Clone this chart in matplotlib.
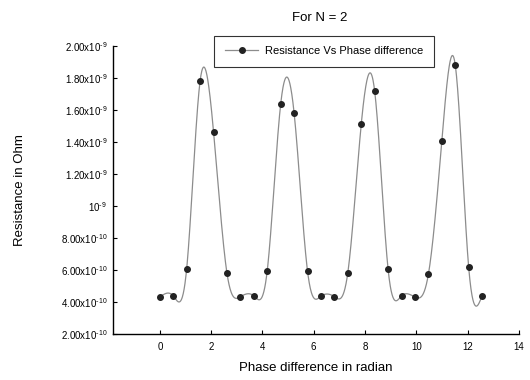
import numpy as np
import matplotlib
matplotlib.use("Agg")
import matplotlib.pyplot as plt

plt.rcParams['font.family'] = ['Liberation Sans', 'DejaVu Sans']
plt.rcParams['mathtext.default'] = 'regular'

# Data: phase difference (k*pi/6) and resistance
phase = np.arange(25) * np.pi / 6
resistance = np.array([
    4.29e-10, 4.36e-10, 6.06e-10, 1.779e-9, 1.462e-9, 5.78e-10,
    4.31e-10, 4.36e-10, 5.94e-10, 1.634e-9, 1.579e-9, 5.90e-10,
    4.34e-10, 4.31e-10, 5.81e-10, 1.509e-9, 1.715e-9, 6.02e-10,
    4.36e-10, 4.29e-10, 5.71e-10, 1.404e-9, 1.879e-9, 6.15e-10,
    4.38e-10,
])

yticks = np.arange(2e-10, 2.01e-9, 2e-10)
ytick_labels = [r'2.00x10$^{\text{-}10}$', r'4.00x10$^{\text{-}10}$', r'6.00x10$^{\text{-}10}$',
                r'8.00x10$^{\text{-}10}$', r'10$^{\text{-}9}$', r'1.20x10$^{\text{-}9}$',
                r'1.40x10$^{\text{-}9}$', r'1.60x10$^{\text{-}9}$', r'1.80x10$^{\text{-}9}$',
                r'2.00x10$^{\text{-}9}$']
xticks = [0, 2, 4, 6, 8, 10, 12, 14]


def natural_cubic_spline(x, y, xs):
    n = len(x)
    h = np.diff(x)
    A = np.zeros((n, n))
    b = np.zeros(n)
    A[0, 0] = 1
    A[-1, -1] = 1
    for i in range(1, n - 1):
        A[i, i - 1] = h[i - 1]
        A[i, i] = 2 * (h[i - 1] + h[i])
        A[i, i + 1] = h[i]
        b[i] = 3 * ((y[i + 1] - y[i]) / h[i] - (y[i] - y[i - 1]) / h[i - 1])
    c = np.linalg.solve(A, b)
    bb = np.zeros(n - 1)
    d = np.zeros(n - 1)
    for i in range(n - 1):
        bb[i] = (y[i + 1] - y[i]) / h[i] - h[i] * (2 * c[i] + c[i + 1]) / 3
        d[i] = (c[i + 1] - c[i]) / (3 * h[i])
    idx = np.clip(np.searchsorted(x, xs) - 1, 0, n - 2)
    dx = xs - x[idx]
    return y[idx] + bb[idx] * dx + c[idx] * dx ** 2 + d[idx] * dx ** 3


xs = np.linspace(phase[0], phase[-1], 1500)
ys = natural_cubic_spline(phase, resistance, xs)

fig = plt.figure(figsize=(5.3, 3.8), dpi=100)
ax = fig.add_axes([0.213, 0.122, 0.766, 0.758])

ax.plot(xs, ys, color='#8c8c8c', lw=0.9, zorder=2)
ax.plot(phase, resistance, 'o', color='#222222', ms=4, zorder=3)
# legend proxy
ax.plot([], [], '-o', color='#8c8c8c', mfc='#222222', mec='#222222', ms=4, lw=0.9,
        label='Resistance Vs Phase difference')

ax.set_xlim(-1.83, 14)
ax.set_ylim(2e-10, 2e-9)
ax.set_xticks(xticks)
ax.set_xticklabels([str(t) for t in xticks], fontsize=7)
ax.set_yticks(yticks)
ax.set_yticklabels(ytick_labels, fontsize=7)
ax.tick_params(direction='in', length=3, width=0.8, pad=6)
ax.tick_params(axis='y', pad=4)
for s in ['top', 'right']:
    ax.spines[s].set_visible(False)
for s in ['left', 'bottom']:
    ax.spines[s].set_linewidth(1.0)

ax.set_xlabel('Phase difference in radian', fontsize=9.5, labelpad=7)
ax.set_ylabel('Resistance in Ohm', fontsize=9.5, labelpad=25)
ax.set_title('For N = 2', fontsize=9.5, pad=18, x=0.51)

leg = ax.legend(loc='upper center', bbox_to_anchor=(0.52, 1.035), fontsize=8,
                frameon=True, fancybox=False, edgecolor='black', borderpad=0.95,
                handlelength=3.0, handletextpad=0.6, borderaxespad=0)
leg.get_frame().set_linewidth(0.8)

fig.savefig('out.png', dpi=100)
